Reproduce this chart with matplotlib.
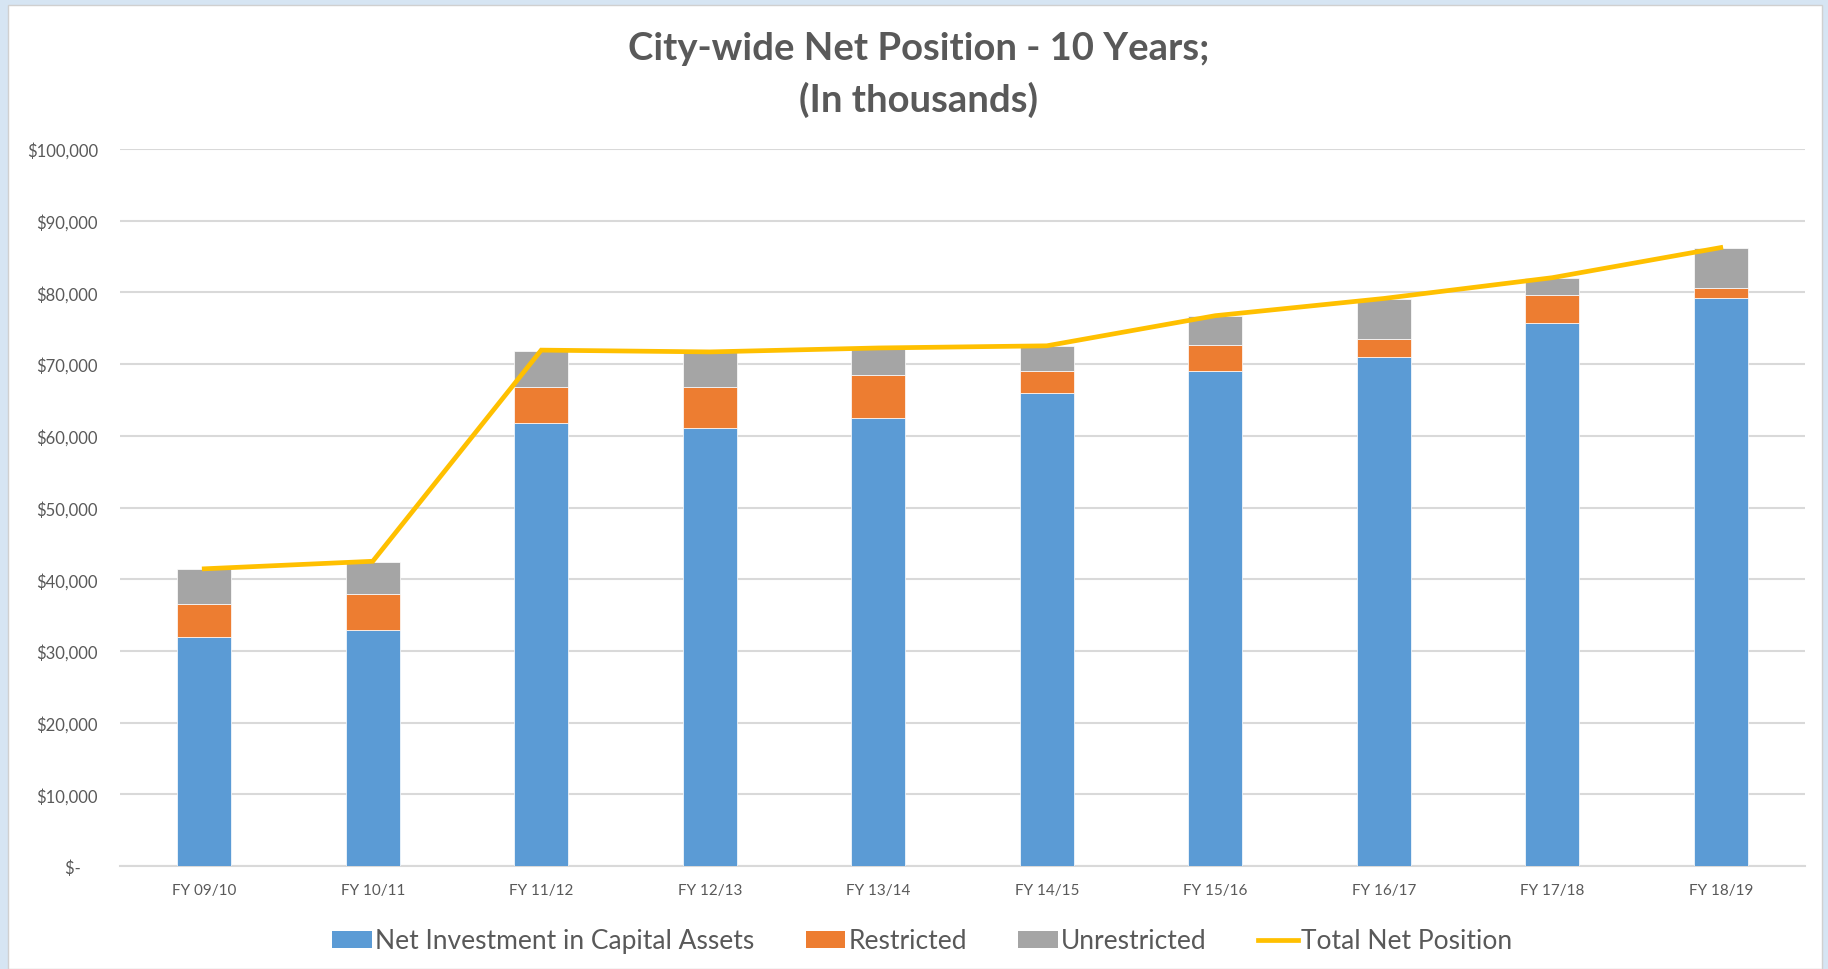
import matplotlib
matplotlib.use("Agg")
import matplotlib.pyplot as plt
from matplotlib.patches import Patch, Rectangle
from matplotlib.lines import Line2D
from matplotlib.ticker import FuncFormatter
import numpy as np

plt.rcParams['font.family'] = ['Lato', 'DejaVu Sans']

categories = ["FY 09/10", "FY 10/11", "FY 11/12", "FY 12/13", "FY 13/14",
              "FY 14/15", "FY 15/16", "FY 16/17", "FY 17/18", "FY 18/19"]
net_investment = [32000, 32900, 61800, 61150, 62500, 66000, 69000, 71000, 75800, 79250]
restricted = [4600, 5000, 5050, 5700, 6000, 3000, 3700, 2550, 3850, 1300]
unrestricted = [4800, 4550, 5000, 4800, 3600, 3550, 3950, 5550, 2350, 5650]
total_net_position = [41450, 42500, 71950, 71700, 72250, 72550, 76750, 79150, 82050, 86250]

c_blue = "#5b9bd5"
c_orange = "#ed7d31"
c_gray = "#a5a5a5"
c_gold = "#ffc000"
txt = "#595959"

W, H = 1828, 970
fig = plt.figure(figsize=(W / 100, H / 100), dpi=100)
fig.patch.set_facecolor("#d6e5f3")
# white chart area
fig.add_artist(Rectangle((8 / W, 0), (1822 - 8) / W, 1 - 6 / H, transform=fig.transFigure,
                         facecolor="white", edgecolor="#d0d0d0", linewidth=1.0, zorder=0))

left, right = 120 / W, 1805 / W
bottom, top = 1 - 867 / H, 1 - 150 / H
ax = fig.add_axes([left, bottom, right - left, top - bottom])
ax.set_facecolor("none")

x = np.arange(len(categories))
bw = 0.32
ni = np.array(net_investment)
rs = np.array(restricted)
un = np.array(unrestricted)
ax.bar(x, ni, bw, color=c_blue, edgecolor="white", linewidth=0.5, zorder=3)
ax.bar(x, rs, bw, bottom=ni, color=c_orange, edgecolor="white", linewidth=0.5, zorder=3)
ax.bar(x, un, bw, bottom=ni + rs, color=c_gray, edgecolor="white", linewidth=0.5, zorder=3)
ax.plot(x, total_net_position, color=c_gold, linewidth=3.4, zorder=4, solid_joinstyle="miter")

ax.set_xlim(-0.5, len(categories) - 0.5)
ax.set_ylim(0, 100000)
ax.set_yticks(np.arange(0, 100001, 10000))
ax.yaxis.set_major_formatter(FuncFormatter(lambda v, p: "$-    " if v == 0 else f"${v:,.0f}"))
ax.grid(axis="y", color="#d9d9d9", linewidth=1.5, zorder=0)
ax.set_axisbelow(True)
for s in ["top", "right", "left"]:
    ax.spines[s].set_visible(False)
ax.spines["bottom"].set_color("#d9d9d9")
ax.spines["bottom"].set_linewidth(1.5)
ax.tick_params(axis="both", length=0, colors=txt)
ax.tick_params(axis="y", labelsize=12, pad=16)
ax.tick_params(axis="x", labelsize=11, pad=12.5)
ax.set_xticks(x)
ax.set_xticklabels(categories)

fig.text(919 / W, 1 - 49 / H, "City-wide Net Position - 10 Years;", ha="center", va="center",
         fontsize=27.5, fontweight="bold", color=txt)
fig.text(919 / W, 1 - 100 / H, "(In thousands)", ha="center", va="center",
         fontsize=27.5, fontweight="bold", color=txt)

handles = [Patch(facecolor=c_blue), Patch(facecolor=c_orange), Patch(facecolor=c_gray),
           Line2D([0], [0], color=c_gold, linewidth=3.4)]
labels = ["Net Investment in Capital Assets", "Restricted", "Unrestricted", "Total Net Position"]
fig.legend(handles, labels, loc="center", bbox_to_anchor=(922 / W, 1 - 942 / H), ncol=4,
           frameon=False, fontsize=19, labelcolor=txt, handlelength=1.5, handleheight=0.6,
           handletextpad=0.12, columnspacing=1.95)

fig.savefig("out.png", dpi=100, facecolor=fig.get_facecolor())
